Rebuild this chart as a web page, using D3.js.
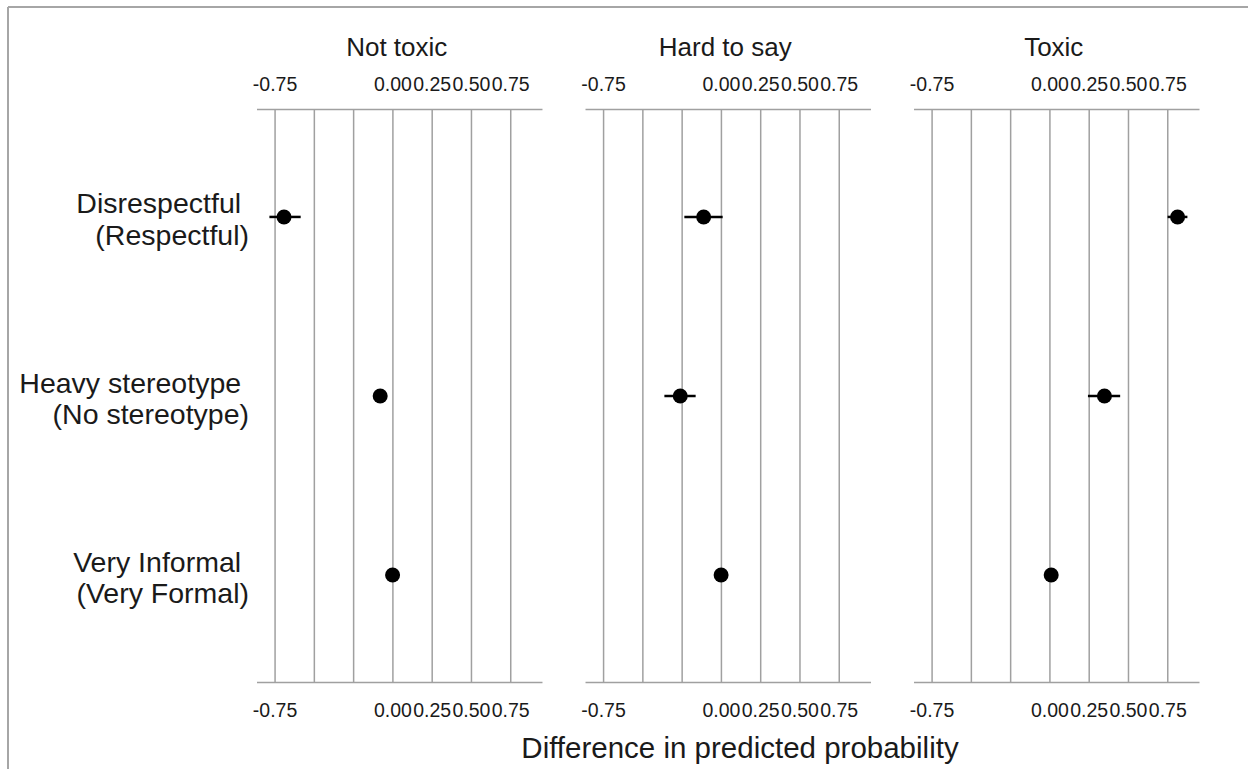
<!DOCTYPE html>
<html>
<head>
<meta charset="utf-8">
<script src="https://cdn.jsdelivr.net/npm/d3@7"></script>
<style>
  body { margin: 0; background: #fff; }
  svg text { font-family: "Liberation Sans", Arial, sans-serif; fill: #1a1a1a; white-space: pre; }
</style>
</head>
<body>
<svg id="canvas" width="1248" height="769"></svg>
<script>
const outcomes = ["Not toxic", "Hard to say", "Toxic"];
const contrasts = [
    ["Disrespectful ", "(Respectful)"],
    ["Heavy stereotype ", "(No stereotype)"],
    ["Very Informal ", "(Very Formal)"]
];
const rowKeys = ["respect", "stereotype", "formal"];

// estimates per outcome, one entry per contrast row
const notToxicEst = [-0.693, -0.081, -0.002];
const notToxicLo = [-0.786, -0.100, -0.012];
const notToxicHi = [-0.587, -0.062, 0.008];

const hardEst = [-0.113, -0.262, -0.002];
const hardLo = [-0.236, -0.363, -0.012];
const hardHi = [0.008, -0.164, 0.008];

const toxicEst = [0.8125, 0.347, 0.008];
const toxicLo = [0.749, 0.242, -0.002];
const toxicHi = [0.875, 0.447, 0.018];

const tickValues = [-0.75, -0.5, -0.25, 0, 0.25, 0.5, 0.75];
const tickLabels = ["-0.75", "", "", "0.00", "0.25", "0.50", "0.75"];

const series = {
    "Not toxic": { est: notToxicEst, lo: notToxicLo, hi: notToxicHi },
    "Hard to say": { est: hardEst, lo: hardLo, hi: hardHi },
    "Toxic": { est: toxicEst, lo: toxicLo, hi: toxicHi }
};

const svg = d3.select("#canvas");
const plotTop = 109.5, plotBottom = 682.5;

// frame lines on top and left
svg.append("line").attr("x1", 8).attr("x2", 1248).attr("y1", 7).attr("y2", 7)
    .attr("stroke", "#a6a6a6").attr("stroke-width", 2);
svg.append("line").attr("x1", 8).attr("x2", 8).attr("y1", 7).attr("y2", 769)
    .attr("stroke", "#a6a6a6").attr("stroke-width", 2);

const facet = d3.scaleBand().domain(outcomes).range([257, 1199.5]).paddingInner(0.131);
const y = d3.scalePoint().domain(rowKeys).range([plotTop, plotBottom]).padding(0.6);

outcomes.forEach(name => {
    const x0 = facet(name);
    const x = d3.scaleLinear().domain([-0.865, 0.952]).range([x0, x0 + facet.bandwidth()]);
    const g = svg.append("g");

    g.selectAll("line.grid")
        .data(tickValues)
        .enter()
        .append("line")
        .attr("class", "grid")
        .attr("x1", d => x(d)).attr("x2", d => x(d))
        .attr("y1", plotTop).attr("y2", plotBottom)
        .attr("stroke", "#a0a0a0").attr("stroke-width", 1.5);

    [plotTop, plotBottom].forEach(yy => {
        g.append("line")
            .attr("x1", x.range()[0]).attr("x2", x.range()[1])
            .attr("y1", yy).attr("y2", yy)
            .attr("stroke", "#a0a0a0").attr("stroke-width", 1.5);
    });

    [91, 717].forEach(base => {
        g.selectAll(null)
            .data(tickValues)
            .enter()
            .append("text")
            .attr("x", d => x(d))
            .attr("y", base)
            .attr("text-anchor", "middle")
            .attr("font-size", 19.5)
            .text((d, i) => tickLabels[i]);
    });

    g.append("text")
        .attr("x", x0 + facet.bandwidth() / 2 - 3)
        .attr("y", 56)
        .attr("text-anchor", "middle")
        .attr("font-size", 26)
        .text(name);

    const s = series[name];
    g.selectAll("line.ci")
        .data(rowKeys)
        .enter()
        .append("line")
        .attr("class", "ci")
        .attr("x1", (d, i) => x(s.lo[i])).attr("x2", (d, i) => x(s.hi[i]))
        .attr("y1", d => y(d)).attr("y2", d => y(d))
        .attr("stroke", "#000").attr("stroke-width", 2.5);

    g.selectAll("circle")
        .data(rowKeys)
        .enter()
        .append("circle")
        .attr("cx", (d, i) => x(s.est[i]))
        .attr("cy", d => y(d))
        .attr("r", 7.5)
        .attr("fill", "#000");
});

// row labels
rowKeys.forEach((k, i) => {
    const t = svg.append("text")
        .attr("text-anchor", "end")
        .attr("font-size", 28.5);
    t.append("tspan").attr("x", 249).attr("y", y(k) - 3.5).text(contrasts[i][0]);
    t.append("tspan").attr("x", 249).attr("y", y(k) + 28).text(contrasts[i][1]);
});

svg.append("text")
    .attr("x", 740)
    .attr("y", 758)
    .attr("text-anchor", "middle")
    .attr("font-size", 29.5)
    .text("Difference in predicted probability");
</script>
</body>
</html>
